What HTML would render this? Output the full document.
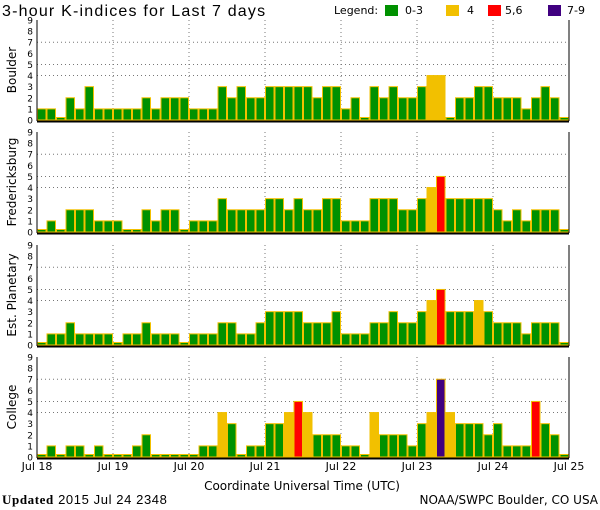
<!DOCTYPE html>
<html><head><meta charset="utf-8"><style>
html,body{margin:0;padding:0;background:#fff;}
svg{display:block;font-family:"DejaVu Sans","Liberation Sans",sans-serif;}
</style></head><body>
<svg id="chart" width="600" height="510" viewBox="0 0 600 510">
<text x="2" y="16" font-size="16" letter-spacing="1.2" font-family="Liberation Sans, sans-serif">3-hour K-indices for Last 7 days</text>
<g font-size="11">
<text x="334" y="14">Legend:</text>
<rect x="385" y="5" width="13" height="11" fill="#009100"/><text x="405" y="14">0-3</text>
<rect x="446" y="5" width="13" height="11" fill="#f2c000"/><text x="467" y="14">4</text>
<rect x="488" y="5" width="13" height="11" fill="#ff0000"/><text x="505" y="14">5,6</text>
<rect x="548" y="5" width="13" height="11" fill="#400080"/><text x="567" y="14">7-9</text>
</g>
<g id="panels"></g>
<g id="xaxis" font-size="11"></g>
<text x="302" y="490" font-size="12" text-anchor="middle">Coordinate Universal Time (UTC)</text>
<text x="2" y="504" font-size="13" font-family="Liberation Sans, sans-serif" letter-spacing="0.6"><tspan font-weight="bold" font-family="Liberation Serif, serif">Updated</tspan> 2015 Jul 24 2348</text>
<text x="598" y="504" font-size="12" text-anchor="end">NOAA/SWPC Boulder, CO USA</text>
</svg>
<script>
const stations = ["Boulder","Fredericksburg","Est. Planetary","College"];
const boulder = [1,1,0,2,1,3,1,1, 1,1,1,2,1,2,2,2, 1,1,1,3,2,3,2,2, 3,3,3,3,3,2,3,3, 1,2,0,3,2,3,2,2, 3,4,4,0,2,2,3,3, 2,2,2,1,2,3,2,0];
const fredericksburg = [0,1,0,2,2,2,1,1, 1,0,0,2,1,2,2,0, 1,1,1,3,2,2,2,2, 3,3,2,3,2,2,3,3, 1,1,1,3,3,3,2,2, 3,4,5,3,3,3,3,3, 2,1,2,1,2,2,2,0];
const planetary = [0,1,1,2,1,1,1,1, 0,1,1,2,1,1,1,0, 1,1,1,2,2,1,1,2, 3,3,3,3,2,2,2,3, 1,1,1,2,2,3,2,2, 3,4,5,3,3,3,4,3, 2,2,2,1,2,2,2,0];
const college = [0,1,0,1,1,0,1,0, 0,0,1,2,0,0,0,0, 0,1,1,4,3,0,1,1, 3,3,4,5,4,2,2,2, 1,1,0,4,2,2,2,1, 3,4,7,4,3,3,3,2, 3,1,1,1,5,3,2,0];
const dayLabels = ["Jul 18","Jul 19","Jul 20","Jul 21","Jul 22","Jul 23","Jul 24","Jul 25"];
const yTicks = [0,1,2,3,4,5,6,7,8,9];
const gridLevels = [4,5,7];
const series = [boulder,fredericksburg,planetary,college];

const NS="http://www.w3.org/2000/svg";
const X0=37, X1=569, tops=[20,132,245,357], PH=100;
const nBars=boulder.length, bw=(X1-X0)/nBars;
function xs(i){return X0+i*bw;}
function mk(t,a,p){const e=document.createElementNS(NS,t);for(const k in a)e.setAttribute(k,a[k]);p.appendChild(e);return e;}
function col(v){return v>=7?"#400080":v>=5?"#ff0000":v>=4?"#f2c000":"#009100";}
const panels=document.getElementById('panels');
series.forEach((data,p)=>{
  const top=tops[p], base=top+PH, ys=v=>base-v*(PH/9);
  const g=mk('g',{},panels);
  
  
  gridLevels.forEach(l=>{const ln=mk('line',{x1:X0,x2:X1,y1:ys(l),y2:ys(l),stroke:'#777','stroke-dasharray':'1,3'},g);
    });
  for(let d=1;d<7;d++){const x=X0+d*8*bw;const ln=mk('line',{x1:x,x2:x,y1:top,y2:base,stroke:'#777','stroke-dasharray':'1,3'},g);
    }
  data.forEach((v,i)=>{
    const h=Math.max(v*(PH/9),2.5);
    const r=mk('rect',{x:xs(i)+0.5,y:base-h,width:bw-1,height:h,fill:col(v),stroke:'#f2c000','stroke-width':1},g);
    
    
  });
  mk('line',{x1:X0,x2:X0,y1:top,y2:base+1,stroke:'#000'},g);
  mk('line',{x1:X1,x2:X1,y1:top,y2:base+1,stroke:'#000'},g);
  mk('line',{x1:X0,x2:X1,y1:base+1.5,y2:base+1.5,stroke:'#000','stroke-width':2},g);
  yTicks.forEach(t=>{const tx=mk('text',{x:33,y:ys(t)+3.5,'font-size':9,'text-anchor':'end'},g);tx.textContent=t;
    });
  const cy=top+PH/2;
  const tt=mk('text',{x:16,y:cy,'font-size':12,'text-anchor':'middle',transform:'rotate(-90 16 '+cy+')'},g);
  tt.textContent=stations[p];
  
  
});
const xa=document.getElementById('xaxis');
dayLabels.forEach((l,d)=>{const t=mk('text',{x:X0+d*8*bw,y:470,'text-anchor':'middle'},xa);t.textContent=l;
  });
</script>
</body></html>
